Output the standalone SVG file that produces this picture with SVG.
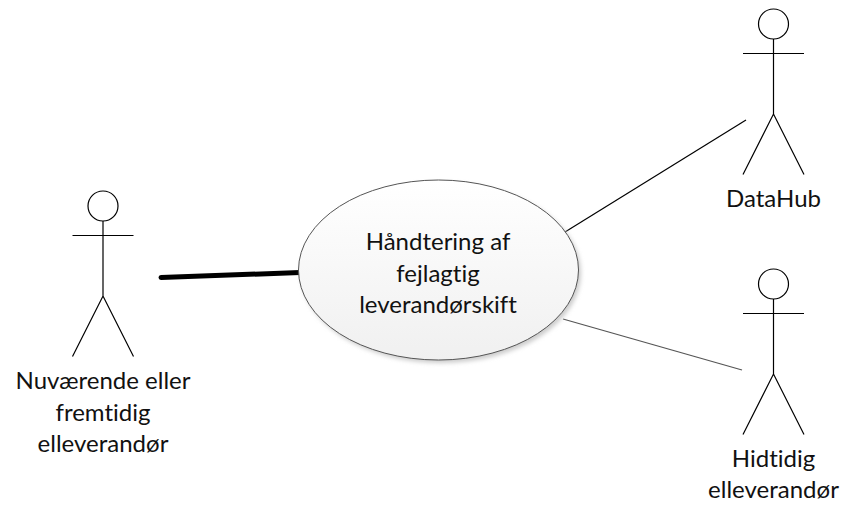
<svg xmlns="http://www.w3.org/2000/svg" width="842" height="505" viewBox="0 0 842 505">
<style>
.a{fill:none;stroke:#000;stroke-width:1.200}
.h{fill:#fff;stroke:#000;stroke-width:1.200}
text{font-family:"Lato","Liberation Sans",sans-serif;font-size:24px;fill:#111;text-anchor:middle;font-variant-ligatures:none}
</style>
<defs>
<linearGradient id="g" x1="0" y1="0" x2="0" y2="1"><stop offset="0" stop-color="#fff"/><stop offset="1" stop-color="#f0f0f0"/></linearGradient>
<filter id="s" x="-10%" y="-10%" width="125%" height="125%"><feGaussianBlur stdDeviation="2"/></filter>
<g id="actor"><circle class="h" cx="0" cy="0" r="15"/><path class="a" d="M0 15V90M-30.500 29.500H30.500M-30.500 150.500L0 90L30.500 150.500"/></g>
</defs>
<g id="connectors">
<path d="M161 277.500L300 272.500" fill="none" stroke="#000" stroke-width="5" stroke-linecap="round"/>
<path d="M565 232L746 120" fill="none" stroke="#000" stroke-width="1.200"/>
<path d="M563 319L742 370" fill="none" stroke="#555" stroke-width="1.200"/>
</g>
<g id="usecase">
<ellipse cx="441" cy="273" rx="140" ry="90" fill="#ccc" filter="url(#s)"/>
<ellipse cx="438.500" cy="270" rx="140" ry="90" fill="url(#g)" stroke="#555" stroke-width="1"/>
<text x="438" y="250">Håndtering af</text>
<text x="438" y="282">fejlagtig</text>
<text x="438" y="313">leverandørskift</text>
</g>
<g id="actor-current"><use href="#actor" x="103" y="206"/>
<text x="103" y="389">Nuværende eller</text>
<text x="103" y="421">fremtidig</text>
<text x="103" y="452">elleverandør</text></g>
<g id="actor-datahub"><use href="#actor" x="773.500" y="24"/>
<text x="773.500" y="207">DataHub</text></g>
<g id="actor-previous"><use href="#actor" x="773.500" y="284"/>
<text x="773.500" y="467">Hidtidig</text>
<text x="773.500" y="498">elleverandør</text></g>
</svg>
